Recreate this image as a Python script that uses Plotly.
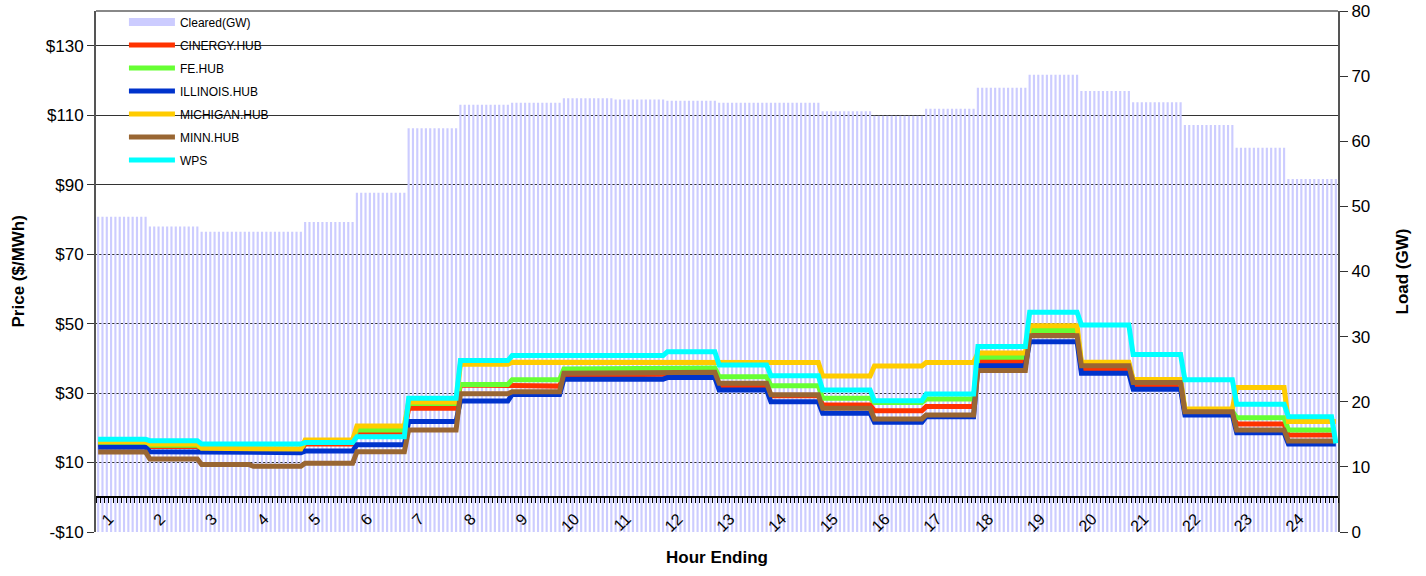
import numpy as np
import plotly.graph_objects as go

# ---------------- data ----------------
hours = [str(h) for h in range(1, 25)]
intervals_per_hour = 12  # 5-minute intervals

cleared_gw = [48.4, 46.9, 46.1, 46.1, 47.6, 52.1, 62.0, 65.6, 65.9, 66.6, 66.4, 66.2,
              65.9, 65.9, 64.6, 63.9, 65.0, 68.2, 70.2, 67.7, 66.0, 62.5, 59.0, 54.2]

cinergy_hub = [15.1, 14.6, 13.8, 13.5, 15.3, 18.7, 25.6, 32.3, 32.0, 35.2, 35.2, 35.5,
               31.9, 29.2, 26.6, 24.9, 26.1, 39.1, 46.8, 36.6, 32.1, 24.3, 21.1, 17.9]
fe_hub = [15.8, 15.0, 14.0, 13.8, 15.9, 19.4, 27.0, 32.5, 33.8, 36.9, 36.9, 37.2,
          34.7, 32.1, 28.5, 27.3, 28.3, 40.3, 48.0, 38.5, 33.5, 24.8, 22.9, 19.4]
illinois_hub = [14.4, 13.1, 13.0, 12.85, 13.3, 15.1, 21.8, 27.7, 29.6, 34.0, 34.0, 34.45,
                30.9, 27.5, 24.2, 21.6, 23.2, 37.9, 44.8, 35.7, 31.1, 23.7, 18.6, 15.3]
michigan_hub = [16.0, 15.35, 14.1, 13.9, 16.5, 20.5, 27.4, 38.3, 38.9, 38.8, 38.8, 38.8,
                38.8, 38.8, 34.9, 37.8, 38.8, 41.5, 49.4, 38.9, 33.9, 25.4, 31.6, 21.8]
minn_hub = [13.0, 11.0, 9.4, 8.9, 9.8, 13.1, 19.4, 29.8, 30.4, 35.7, 35.7, 36.0,
            32.8, 29.5, 25.6, 22.55, 23.7, 36.5, 46.5, 37.9, 33.05, 24.65, 19.4, 16.2]
wps = [16.7, 16.3, 15.3, 15.3, 15.8, 17.45, 28.5, 39.35, 40.8, 41.0, 40.8, 41.9,
       38.1, 35.0, 30.9, 27.8, 29.7, 43.4, 53.3, 49.6, 41.1, 33.8, 26.8, 23.2]
wps_last_interval = 15.5

series_names = ["CINERGY.HUB", "FE.HUB", "ILLINOIS.HUB", "MICHIGAN.HUB", "MINN.HUB", "WPS"]
series_colors = ["#FF3300", "#66FF33", "#0033CC", "#FFCC00", "#996633", "#00FFFF"]
bar_color = "#CCCCFF"

price_ticks = [-10, 10, 30, 50, 70, 90, 110, 130]
price_labels = ["-$10", "$10", "$30", "$50", "$70", "$90", "$110", "$130"]
load_ticks = [0, 10, 20, 30, 40, 50, 60, 70, 80]

# ---------------- build ----------------
n = len(hours) * intervals_per_hour
x = np.arange(n)


def expand(v):
    return np.repeat(np.asarray(v, dtype=float), intervals_per_hour)


series_values = [expand(cinergy_hub), expand(fe_hub), expand(illinois_hub),
                 expand(michigan_hub), expand(minn_hub), expand(wps)]
series_values[5][-1] = wps_last_interval

FONT = "Liberation Sans, Arial, sans-serif"

fig = go.Figure()
fig.add_trace(go.Bar(
    x=x, y=expand(cleared_gw), name="Cleared(GW)", yaxis="y",
    marker=dict(color=bar_color, line=dict(width=0)),
    showlegend=False, hoverinfo="y",
))
# legend entry for the bars (wide swatch, like the original)
fig.add_trace(go.Scatter(
    x=[None], y=[None], name="Cleared(GW)", mode="lines", yaxis="y",
    line=dict(color=bar_color, width=8), legendgroup="g0",
))
for i, (nm, col, vals) in enumerate(zip(series_names, series_colors, series_values)):
    fig.add_trace(go.Scatter(
        x=x, y=vals, name=nm, mode="lines", yaxis="y2",
        line=dict(color=col, width=5), legendgroup=f"g{i+1}",
    ))

# hour labels on category boundaries
tick_pos = list(np.arange(n + 1) - 0.5)
tick_txt = [""] * (n + 1)
for h, lab in enumerate(hours):
    tick_txt[h * intervals_per_hour + 3] = lab

fig.update_layout(
    width=1426, height=576,
    margin=dict(l=96, r=88, t=11, b=44, autoexpand=False),
    paper_bgcolor="white", plot_bgcolor="white",
    font=dict(family=FONT, color="black", size=17),
    bargap=0.5,
    showlegend=True,
    legend=dict(x=0.0225, y=1.0065, xanchor="left", yanchor="top",
                bgcolor="rgba(0,0,0,0)", borderwidth=0,
                font=dict(family=FONT, size=12, color="black"),
                tracegroupgap=4, itemwidth=46),
    xaxis=dict(
        range=[-0.5, n - 0.5], anchor="free", position=10 / 150,
        tickmode="array", tickvals=tick_pos, ticktext=tick_txt,
        tickangle=-45, ticks="outside", ticklen=5, tickwidth=1, tickcolor="black",
        showline=True, linecolor="black", linewidth=2,
        showgrid=False, zeroline=False, automargin=False,
        tickfont=dict(family=FONT, size=16, color="black"),
    ),
    yaxis=dict(
        range=[0, 80], side="right", tickvals=load_ticks,
        ticks="outside", ticklen=8, tickcolor="#333",
        showline=True, linecolor="#555", linewidth=2,
        showgrid=False, zeroline=False, automargin=False,
        tickfont=dict(family=FONT, size=17, color="black"),
    ),
    yaxis2=dict(
        range=[-10, 140], side="left", overlaying="y",
        tickmode="array", tickvals=price_ticks, ticktext=price_labels,
        ticks="outside", ticklen=7, tickcolor="#333",
        showline=True, linecolor="#555", linewidth=2,
        showgrid=True, gridcolor="#333", gridwidth=1, zeroline=False, automargin=False,
        tickfont=dict(family=FONT, size=17, color="black"),
    ),
    shapes=[
        # white legend backdrop that hides the gridlines behind the legend
        dict(type="rect", xref="paper", yref="paper", layer="below",
             x0=22 / 1242, x1=192 / 1242, y0=1 - 160 / 521, y1=1 - 3 / 521,
             fillcolor="white", line=dict(width=0)),
        dict(type="line", xref="paper", yref="paper", x0=0, x1=1, y0=1, y1=1,
             line=dict(color="#888", width=2)),
    ],
    annotations=[
        dict(text="<b>Price ($/MWh)</b>", xref="paper", yref="paper",
             x=-0.0628, y=0.5, textangle=-90, showarrow=False,
             font=dict(family=FONT, size=17), xanchor="center", yanchor="middle"),
        dict(text="<b>Load (GW)</b>", xref="paper", yref="paper",
             x=1.0523, y=0.5, textangle=-90, showarrow=False,
             font=dict(family=FONT, size=17), xanchor="center", yanchor="middle"),
        dict(text="<b>Hour Ending</b>", xref="paper", yref="paper",
             x=0.4998, y=-0.0497, showarrow=False,
             font=dict(family=FONT, size=17), xanchor="center", yanchor="middle"),
    ],
)

# remove the default page margin so the figure fills the window exactly
fig.write_html("out.html",
               config={"displayModeBar": False},
               post_script="document.body.style.margin='0';document.body.style.overflow='hidden';")
